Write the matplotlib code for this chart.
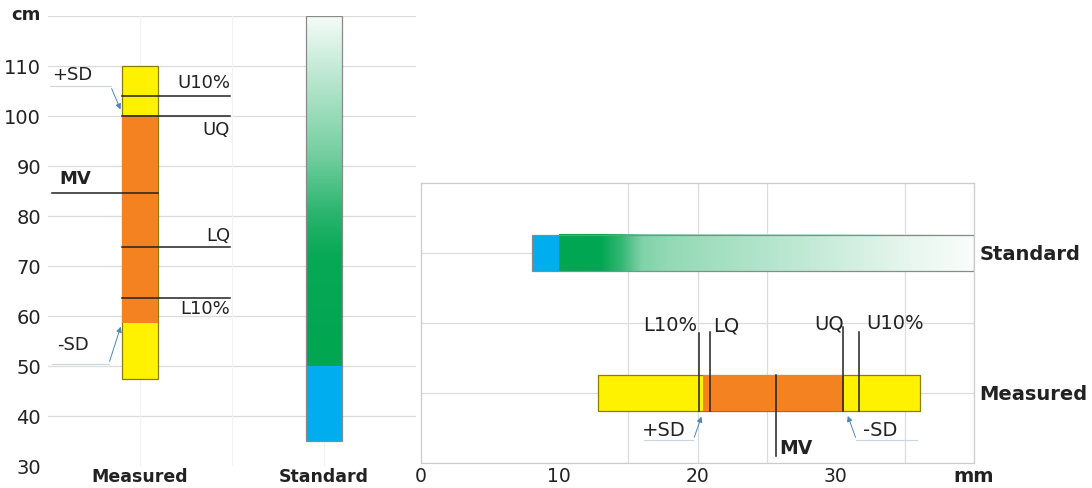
import matplotlib
matplotlib.use("Agg")
import matplotlib.pyplot as plt
import numpy as np
from matplotlib.colors import to_rgb
from matplotlib.patches import Rectangle

plt.rcParams['font.family'] = ['DejaVu Sans']

# ---------------- data: left panel (cm) ----------------
left_categories = ["Measured", "Standard"]
left_yticks = [30, 40, 50, 60, 70, 80, 90, 100, 110]
cm_measured_range = [47.5, 110.0]      # yellow (-SD .. +SD)
cm_measured_core = [58.7, 100.2]       # orange
cm_stats_labels = ["U10%", "UQ", "MV", "LQ", "L10%"]
cm_stats_values = [104.0, 100.0, 84.7, 73.9, 63.7]
cm_standard_blue = [35.0, 50.0]
cm_standard_green = [50.0, 120.0]

# ---------------- data: right panel (mm) ----------------
right_categories = ["Measured", "Standard"]
right_xticks = [0, 10, 20, 30, 40]
right_xticklabels = ["0", "10", "20", "30", "mm"]
mm_measured_range = [12.8, 36.1]
mm_measured_core = [20.4, 30.6]
mm_stats_labels = ["L10%", "LQ", "MV", "UQ", "U10%"]
mm_stats_values = [20.1, 20.9, 25.7, 30.5, 31.7]
mm_standard_blue = [8.0, 10.0]
mm_standard_green = [10.0, 40.0]

# ---------------- style ----------------
YELLOW = "#FFF200"
ORANGE = "#F58220"
GREEN = "#00A651"
BLUE = "#00AEEF"
OLIVE = "#8a7d00"
EDGE_GRAY = "#8a8a8a"
GRID = "#dcdcdc"
LEADER = "#4f86b5"
TXT = "#222222"
FS_L = 13      # left annotations
FS_R = 14      # right annotations


def green_fade(f):
    g = np.array(to_rgb(GREEN))
    f = np.clip(np.asarray(f), 0, 1)[..., None]
    return g * (1 - f) + f * np.ones(3)


W, H = 1092, 488
fig = plt.figure(figsize=(W / 100, H / 100), dpi=100)
fig.patch.set_facecolor("white")

# ================= LEFT PANEL =================
axL = fig.add_axes([48 / W, 1 - 466 / H, (416 - 48) / W, (466 - 16) / H])
xpos = {c: i + 1 for i, c in enumerate(left_categories)}
bw = 0.2

for v in range(40, 121, 10):
    axL.axhline(v, color=GRID, lw=0.9, zorder=0)
for xv in [1.0, 1.5, 2.0]:
    axL.axvline(xv, color="#f2f2f2", lw=0.8, zorder=0)

xm = xpos["Measured"]
axL.bar(xm, cm_measured_range[1] - cm_measured_range[0], bottom=cm_measured_range[0],
        width=bw, color=YELLOW, edgecolor=OLIVE, lw=0.9, zorder=2)
axL.bar(xm, cm_measured_core[1] - cm_measured_core[0], bottom=cm_measured_core[0],
        width=bw, color=ORANGE, edgecolor="none", zorder=3)

for lab, val in zip(cm_stats_labels, cm_stats_values):
    if lab == "MV":
        axL.plot([0.52, xm + bw / 2], [val, val], color=TXT, lw=1.1, zorder=4)
    else:
        axL.plot([xm - bw / 2, 1.49], [val, val], color=TXT, lw=1.1, zorder=4)

lab_pos_L = {"U10%": (1.49, 106.6, "right", "normal"),
             "UQ": (1.49, 97.2, "right", "normal"),
             "MV": (0.56, 87.4, "left", "bold"),
             "LQ": (1.49, 76.0, "right", "normal"),
             "L10%": (1.49, 61.3, "right", "normal")}
for lab in cm_stats_labels:
    x, y, ha, wt = lab_pos_L[lab]
    axL.text(x, y, lab, ha=ha, va="center", fontsize=FS_L, fontweight=wt, color=TXT, zorder=5)

# +SD / -SD leaders
axL.text(0.52, 108.3, "+SD", ha="left", va="center", fontsize=FS_L, color=TXT)
axL.plot([0.51, 0.84], [106.0, 106.0], color="#c9d6e0", lw=0.8, zorder=4)
axL.annotate("", xy=(xm - bw / 2, 100.8), xytext=(0.84, 106.0),
             arrowprops=dict(arrowstyle="-|>", color=LEADER, lw=0.7, mutation_scale=8), zorder=5)
axL.text(0.55, 54.3, "-SD", ha="left", va="center", fontsize=FS_L, color=TXT)
axL.plot([0.52, 0.83], [50.4, 50.4], color="#c9d6e0", lw=0.8, zorder=4)
axL.annotate("", xy=(xm - bw / 2, 58.4), xytext=(0.83, 50.4),
             arrowprops=dict(arrowstyle="-|>", color=LEADER, lw=0.7, mutation_scale=8), zorder=5)

# Standard vertical bar
xs = xpos["Standard"]
axL.bar(xs, cm_standard_blue[1] - cm_standard_blue[0], bottom=cm_standard_blue[0],
        width=bw, color=BLUE, edgecolor="none", zorder=2)
vv = np.linspace(cm_standard_green[0], cm_standard_green[1], 400)
fv = np.interp(vv, [50, 72, 80, 92, 106, 120], [0, 0.03, 0.15, 0.45, 0.7, 0.96])
img = green_fade(fv)[:, None, :]
axL.imshow(img, extent=[xs - bw / 2, xs + bw / 2, cm_standard_green[0], cm_standard_green[1]],
           origin="lower", aspect="auto", zorder=2, interpolation="bilinear")
axL.add_patch(Rectangle((xs - bw / 2, cm_standard_blue[0]), bw,
                        cm_standard_green[1] - cm_standard_blue[0], fill=False,
                        edgecolor=EDGE_GRAY, lw=0.9, zorder=3))

axL.set_xlim(0.5, 2.5)
axL.set_ylim(30, 120)
axL.set_yticks(left_yticks)
axL.set_yticklabels([str(t) for t in left_yticks], fontsize=14, color=TXT)
axL.set_xticks([xpos[c] for c in left_categories])
axL.set_xticklabels(left_categories, fontsize=12.5, fontweight="bold", color=TXT)
axL.tick_params(length=0)
axL.tick_params(axis="y", pad=5)
axL.tick_params(axis="x", pad=1.5)
for s in axL.spines.values():
    s.set_visible(False)
fig.text(26 / W, 1 - 15 / H, "cm", ha="center", va="center", fontsize=13,
         fontweight="bold", color=TXT)

# ================= RIGHT PANEL =================
axR = fig.add_axes([421 / W, 1 - 463 / H, (974 - 421) / W, (463 - 183) / H])
ypos = {"Measured": 1, "Standard": 3}
bh = 0.52

for yv in [1, 2, 3]:
    axR.axhline(yv, color=GRID, lw=0.9, zorder=0)
for xv in [15, 20, 25, 35]:
    axR.axvline(xv, color=GRID, lw=0.9, zorder=0)

ym = ypos["Measured"]
axR.barh(ym, mm_measured_range[1] - mm_measured_range[0], left=mm_measured_range[0],
         height=bh, color=YELLOW, edgecolor=OLIVE, lw=0.9, zorder=2)
axR.barh(ym, mm_measured_core[1] - mm_measured_core[0], left=mm_measured_core[0],
         height=bh, color=ORANGE, edgecolor="none", zorder=3)

line_top = {"L10%": 1.86, "LQ": 1.87, "UQ": 1.94, "U10%": 1.87}
for lab, val in zip(mm_stats_labels, mm_stats_values):
    if lab == "MV":
        axR.plot([val, val], [ym + bh / 2, 0.10], color=TXT, lw=1.1, zorder=4)
    else:
        axR.plot([val, val], [ym - bh / 2, line_top[lab]], color=TXT, lw=1.1, zorder=4)

lab_off_R = {"L10%": (-0.15, 1.97, "right", "normal"),
             "LQ": (0.2, 1.95, "left", "normal"),
             "MV": (0.2, 0.21, "left", "bold"),
             "UQ": (0.1, 1.98, "right", "normal"),
             "U10%": (0.5, 1.99, "left", "normal")}
for lab, val in zip(mm_stats_labels, mm_stats_values):
    dx, y, ha, wt = lab_off_R[lab]
    axR.text(val + dx, y, lab, ha=ha, va="center", fontsize=FS_R if wt == "normal" else 13.5,
             fontweight=wt, color=TXT, zorder=5)

# +SD / -SD leaders
axR.text(16.0, 0.46, "+SD", ha="left", va="center", fontsize=FS_R, color=TXT)
axR.plot([16.1, 19.7], [0.33, 0.33], color="#c9d6e0", lw=0.8, zorder=4)
axR.annotate("", xy=(mm_measured_core[0] - 0.05, 0.70), xytext=(19.7, 0.33),
             arrowprops=dict(arrowstyle="-|>", color=LEADER, lw=0.7, mutation_scale=8), zorder=5)
axR.text(32.0, 0.47, "-SD", ha="left", va="center", fontsize=FS_R, color=TXT)
axR.plot([31.5, 35.9], [0.33, 0.33], color="#c9d6e0", lw=0.8, zorder=4)
axR.annotate("", xy=(mm_measured_core[1] + 0.2, 0.71), xytext=(31.5, 0.33),
             arrowprops=dict(arrowstyle="-|>", color=LEADER, lw=0.7, mutation_scale=8), zorder=5)

# Standard horizontal bar
ys = ypos["Standard"]
axR.barh(ys, mm_standard_blue[1] - mm_standard_blue[0], left=mm_standard_blue[0],
         height=bh, color=BLUE, edgecolor="none", zorder=2)
xx = np.linspace(mm_standard_green[0], mm_standard_green[1], 600)
fx = np.interp(xx, [10, 13, 14.5, 16, 18, 22, 29, 35, 40],
               [0, 0, 0.2, 0.5, 0.58, 0.65, 0.78, 0.9, 0.98])
img2 = green_fade(fx)[None, :, :]
axR.imshow(img2, extent=[mm_standard_green[0], mm_standard_green[1], ys - bh / 2, ys + bh / 2],
           origin="lower", aspect="auto", zorder=2, interpolation="bilinear")
axR.add_patch(Rectangle((mm_standard_blue[0], ys - bh / 2),
                        mm_standard_green[1] - mm_standard_blue[0], bh, fill=False,
                        edgecolor=EDGE_GRAY, lw=0.9, zorder=3))

axR.set_xlim(0, 40)
axR.set_ylim(0, 4)
axR.set_xticks(right_xticks)
axR.set_xticklabels(right_xticklabels, fontsize=13.5, color=TXT)
for t in axR.get_xticklabels():
    if t.get_text() == "mm":
        t.set_fontweight("bold")
        t.set_fontsize(14)
axR.set_yticks([ypos[c] for c in right_categories])
axR.set_yticklabels(right_categories, fontsize=14, fontweight="bold", color=TXT)
axR.yaxis.tick_right()
axR.tick_params(length=0)
axR.tick_params(axis="y", pad=4)
axR.tick_params(axis="x", pad=3)
for s in axR.spines.values():
    s.set_color("#cccccc")
    s.set_linewidth(0.9)

fig.savefig("out.png", dpi=100, facecolor="white")
